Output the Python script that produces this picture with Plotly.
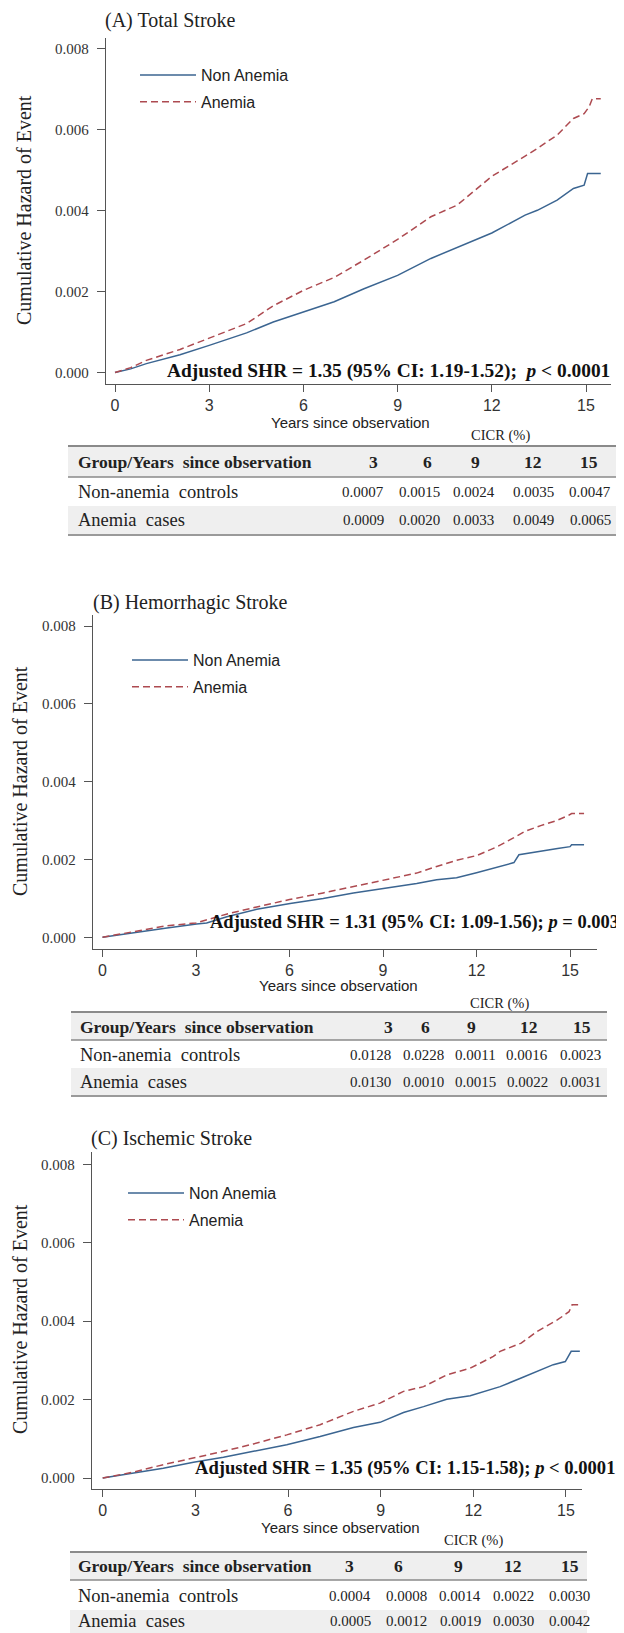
import plotly.graph_objects as go

# The page body has an 8px default margin, so the figure is drawn at (8, 8).
OX, OY = 8, 8
PAGE_W, PAGE_H = 624, 1633
W, H = PAGE_W - OX, PAGE_H - OY

SERIF = "Liberation Serif, Times New Roman, serif"
NARROW = "Liberation Sans Narrow, Arial Narrow, Liberation Sans, Arial, sans-serif"
BLUE = "#3b6591"
RED = "#ad4a50"
AXC = "#555555"

# ---------------- data ----------------
series_names = ["Non Anemia", "Anemia"]
panel_titles = ["(A) Total Stroke", "(B) Hemorrhagic Stroke", "(C) Ischemic Stroke"]
shr_texts = [
    "<b>Adjusted SHR = 1.35 (95% CI: 1.19-1.52);  <i>p</i> &lt; 0.0001</b>",
    "<b>Adjusted SHR = 1.31 (95% CI: 1.09-1.56); <i>p</i> = 0.003</b>",
    "<b>Adjusted SHR = 1.35 (95% CI: 1.15-1.58); <i>p</i> &lt; 0.0001</b>",
]
x_ticks = [0, 3, 6, 9, 12, 15]
y_ticks = [0, 0.002, 0.004, 0.006, 0.008]
y_tick_labels = ["0.000", "0.002", "0.004", "0.006", "0.008"]

# Panel A
a_non_years = [0, 0.5, 1.0, 2.07, 3.0, 4.19, 5.04, 6.0, 6.98, 7.93, 9.0, 10.06, 10.9, 12.0, 13.06, 13.45, 14.08, 14.6, 14.94, 15.05, 15.47]
a_non_vals = [0, 0.00009, 0.00022, 0.00044, 0.00067, 0.00098, 0.00125, 0.00149, 0.00175, 0.00207, 0.0024, 0.00282, 0.0031, 0.00345, 0.00389, 0.00401, 0.00426, 0.00455, 0.00463, 0.00492, 0.00492]
a_ane_years = [0, 0.5, 1.0, 2.07, 3.0, 4.19, 5.04, 6.0, 6.98, 7.93, 9.0, 10.06, 10.9, 12.0, 13.06, 13.45, 14.08, 14.6, 14.94, 15.1, 15.2, 15.47]
a_ane_vals = [0, 0.00012, 0.0003, 0.00057, 0.00085, 0.00121, 0.00165, 0.00203, 0.00235, 0.00278, 0.00329, 0.00385, 0.00414, 0.00485, 0.00535, 0.00554, 0.00587, 0.00628, 0.0064, 0.00657, 0.00677, 0.00677]
# Panel B
b_non_years = [0, 1.0, 2.01, 3.02, 3.34, 3.99, 4.95, 6.02, 7.08, 8.05, 9.0, 10.08, 10.72, 11.36, 12.0, 12.64, 13.2, 13.36, 14.0, 14.6, 15.0, 15.05, 15.45]
b_non_vals = [0, 0.00012, 0.00023, 0.00034, 0.00037, 0.00053, 0.00072, 0.00087, 0.001, 0.00114, 0.00125, 0.00138, 0.00148, 0.00153, 0.00166, 0.00179, 0.00192, 0.00212, 0.00221, 0.00228, 0.00233, 0.00238, 0.00238]
b_ane_years = [0, 1.0, 2.0, 3.0, 3.5, 4.0, 4.95, 6.0, 7.08, 8.05, 9.0, 10.08, 10.72, 11.36, 12.0, 12.64, 13.2, 13.55, 14.06, 14.57, 14.95, 15.05, 15.45]
b_ane_vals = [0, 0.00014, 0.00029, 0.00037, 0.00048, 0.0006, 0.00078, 0.00097, 0.00114, 0.00131, 0.00148, 0.00165, 0.00182, 0.00198, 0.0021, 0.00232, 0.00256, 0.00272, 0.00287, 0.003, 0.00313, 0.00318, 0.00318]
# Panel C
c_non_years = [0, 0.99, 1.96, 2.94, 3.91, 4.88, 5.96, 7.04, 8.12, 8.98, 9.74, 10.39, 11.14, 11.9, 12.65, 12.87, 13.55, 14.07, 14.59, 14.98, 15.17, 15.45]
c_non_vals = [0, 0.00013, 0.00025, 0.0004, 0.00053, 0.00068, 0.00085, 0.00106, 0.00129, 0.00142, 0.00167, 0.00182, 0.00201, 0.0021, 0.00228, 0.00233, 0.00255, 0.00272, 0.00289, 0.00297, 0.00323, 0.00323]
c_ane_years = [0, 0.99, 1.96, 2.94, 3.91, 4.88, 5.96, 7.04, 8.12, 8.98, 9.74, 10.39, 11.14, 11.9, 12.65, 12.87, 13.55, 14.07, 14.72, 15.1, 15.2, 15.45]
c_ane_vals = [0, 0.00015, 0.00034, 0.00051, 0.00068, 0.00087, 0.0011, 0.00136, 0.0017, 0.00191, 0.00221, 0.00233, 0.00263, 0.0028, 0.0031, 0.00323, 0.00344, 0.00374, 0.00403, 0.00424, 0.00442, 0.00442]

# Tables (CICR %)
table_header_label = "Group/Years  since observation"
table_years = ["3", "6", "9", "12", "15"]
table_groups = ["Non-anemia  controls", "Anemia  cases"]
cicr_a = [["0.0007", "0.0015", "0.0024", "0.0035", "0.0047"],
          ["0.0009", "0.0020", "0.0033", "0.0049", "0.0065"]]
cicr_b = [["0.0128", "0.0228", "0.0011", "0.0016", "0.0023"],
          ["0.0130", "0.0010", "0.0015", "0.0022", "0.0031"]]
cicr_c = [["0.0004", "0.0008", "0.0014", "0.0022", "0.0030"],
          ["0.0005", "0.0012", "0.0019", "0.0030", "0.0042"]]

# ---------------- layout geometry (page pixels) ----------------
panels = [
    dict(series=[(a_non_years, a_non_vals), (a_ane_years, a_ane_vals)], cicr=cicr_a,
         ax_left=106, ax_right=611, ax_top=38, ax_bottom=384,
         xr=[-0.2866, 15.796], yr=[-0.000284, 0.00827],
         title=(103, 20), ytitle=(24, 210), xtitle=(350, 423), cicr_lbl=(500, 435),
         shr=(612, 371, 19.4), legend=(135, 58),
         tb=dict(top=446, left=68, right=621, hc=462, hline=477, r1=492, r2top=506, r2=520, bottom=535,
                 lab=76, vals=[363, 419, 474, 533, 590], hdr=[374, 428, 475, 533, 589])),
    dict(series=[(b_non_years, b_non_vals), (b_ane_years, b_ane_vals)], cicr=cicr_b,
         ax_left=93, ax_right=597, ax_top=615, ax_bottom=949,
         xr=[-0.305, 15.865], yr=[-0.0003007, 0.008283],
         title=(91, 602), ytitle=(20, 781), xtitle=(338, 985), cicr_lbl=(499, 1003),
         shr=(621, 922, 18.5), legend=(127, 643),
         tb=dict(top=1012, left=71, right=607, hc=1027, hline=1040, r1=1055, r2top=1068, r2=1082, bottom=1096,
                 lab=78, vals=[370, 423, 475, 527, 580], hdr=[388, 425, 471, 529, 582])),
    dict(series=[(c_non_years, c_non_vals), (c_ane_years, c_ane_vals)], cicr=cicr_c,
         ax_left=92, ax_right=582, ax_top=1152, ax_bottom=1489,
         xr=[-0.3465, 15.52], yr=[-0.00028, 0.008313],
         title=(89, 1138), ytitle=(20, 1319), xtitle=(340, 1527), cicr_lbl=(474, 1540),
         shr=(617, 1468, 18.6), legend=(123, 1176),
         tb=dict(top=1552, left=70, right=587, hc=1566, hline=1580, r1=1596, r2top=1610, r2=1621, bottom=1645,
                 lab=76, vals=[350, 406, 460, 513, 569], hdr=[349, 398, 458, 513, 570])),
]


def px(x):
    return (x - OX) / W


def py(y):
    return 1 - (y - OY) / H


fig = go.Figure()
annotations = []
shapes = []
layout = dict(width=W, height=H, margin=dict(l=0, r=0, t=0, b=0), autosize=False,
              paper_bgcolor="white", plot_bgcolor="white", showlegend=True)

for i, p in enumerate(panels):
    sfx = "" if i == 0 else str(i + 1)
    xa, ya = "x" + sfx, "y" + sfx
    leg = "legend" + sfx
    for (yrs, vals), name, color, dash in zip(p["series"], series_names, [BLUE, RED], ["solid", "7px,4px"]):
        fig.add_trace(go.Scatter(x=yrs, y=vals, mode="lines", name=name, xaxis=xa, yaxis=ya,
                                 line=dict(color=color, width=1.5, dash=dash),
                                 legend=leg, legendgroup=name + sfx, showlegend=True,
                                 hoverinfo="skip"))
    layout["xaxis" + sfx] = dict(domain=[px(p["ax_left"]), px(p["ax_right"])], range=p["xr"],
                                 anchor=ya, showline=True, linecolor=AXC, linewidth=1.3,
                                 ticks="outside", ticklen=7, tickwidth=1.3, tickcolor=AXC,
                                 tickvals=x_ticks, showgrid=False, zeroline=False,
                                 tickfont=dict(family=NARROW, size=16, color="#333"))
    layout["yaxis" + sfx] = dict(domain=[py(p["ax_bottom"]), py(p["ax_top"])], range=p["yr"],
                                 anchor=xa, showline=True, linecolor=AXC, linewidth=1.3,
                                 ticks="outside", ticklen=8, tickwidth=1.3, tickcolor=AXC,
                                 tickvals=y_ticks, ticktext=y_tick_labels, showgrid=False,
                                 zeroline=False, ticklabelstandoff=5,
                                 tickfont=dict(family=SERIF, size=15, color="#333"))
    lx, ly = p["legend"]
    layout[leg] = dict(x=px(lx), y=py(ly), xanchor="left", yanchor="top",
                       bgcolor="rgba(0,0,0,0)", borderwidth=0, itemwidth=56,
                       tracegroupgap=3, traceorder="grouped",
                       font=dict(family=NARROW, size=16, color="#222"))
    # texts
    tx, ty = p["title"]
    annotations.append(dict(text=panel_titles[i], x=px(tx), y=py(ty), xref="paper", yref="paper",
                            xanchor="left", yanchor="middle", showarrow=False,
                            font=dict(family=SERIF, size=20, color="#222")))
    yx, yy = p["ytitle"]
    annotations.append(dict(text="Cumulative Hazard of Event", x=px(yx), y=py(yy), xref="paper",
                            yref="paper", xanchor="center", yanchor="middle", textangle=-90,
                            showarrow=False, font=dict(family=SERIF, size=20, color="#222")))
    xx, xy = p["xtitle"]
    annotations.append(dict(text="Years since observation", x=px(xx), y=py(xy), xref="paper",
                            yref="paper", xanchor="center", yanchor="middle", showarrow=False,
                            font=dict(family=NARROW, size=15, color="#222")))
    cx, cy = p["cicr_lbl"]
    annotations.append(dict(text="CICR (%)", x=px(cx), y=py(cy), xref="paper", yref="paper",
                            xanchor="center", yanchor="middle", showarrow=False,
                            font=dict(family=SERIF, size=14.5, color="#222")))
    sx, sy, ss = p["shr"]
    annotations.append(dict(text=shr_texts[i], x=px(sx), y=py(sy), xref="paper", yref="paper",
                            xanchor="right", yanchor="middle", showarrow=False,
                            font=dict(family=SERIF, size=ss, color="#111")))
    # table
    t = p["tb"]
    gray = "#efefef"
    shapes.append(dict(type="rect", xref="paper", yref="paper", x0=px(t["left"]), x1=px(t["right"]),
                       y0=py(t["hline"]), y1=py(t["top"]), fillcolor=gray, line=dict(width=0), layer="below"))
    shapes.append(dict(type="rect", xref="paper", yref="paper", x0=px(t["left"]), x1=px(t["right"]),
                       y0=py(min(t["bottom"], PAGE_H)), y1=py(t["r2top"]), fillcolor=gray,
                       line=dict(width=0), layer="below"))
    for yline, wline, col in [(t["top"], 2, "#8a8a8a"), (t["hline"], 1.5, "#8a8a8a"), (t["bottom"], 2, "#9a9a9a")]:
        if yline < PAGE_H:
            shapes.append(dict(type="line", xref="paper", yref="paper", x0=px(t["left"]), x1=px(t["right"]),
                               y0=py(yline), y1=py(yline), line=dict(color=col, width=wline)))
    annotations.append(dict(text="<b>" + table_header_label + "</b>", x=px(t["lab"]), y=py(t["hc"]),
                            xref="paper", yref="paper", xanchor="left", yanchor="middle", showarrow=False,
                            font=dict(family=SERIF, size=17.5, color="#222")))
    for yr_lbl, hx in zip(table_years, t["hdr"]):
        annotations.append(dict(text="<b>" + yr_lbl + "</b>", x=px(hx), y=py(t["hc"]), xref="paper",
                                yref="paper", xanchor="center", yanchor="middle", showarrow=False,
                                font=dict(family=SERIF, size=17.5, color="#222")))
    for grp, row, ry in zip(table_groups, p["cicr"], [t["r1"], t["r2"]]):
        annotations.append(dict(text=grp, x=px(t["lab"]), y=py(ry), xref="paper", yref="paper",
                                xanchor="left", yanchor="middle", showarrow=False,
                                font=dict(family=SERIF, size=18.5, color="#222")))
        for v, vx in zip(row, t["vals"]):
            annotations.append(dict(text=v, x=px(vx), y=py(ry), xref="paper", yref="paper",
                                    xanchor="center", yanchor="middle", showarrow=False,
                                    font=dict(family=SERIF, size=15, color="#222")))

layout["annotations"] = annotations
layout["shapes"] = shapes
fig.update_layout(**layout)
fig.write_html("out.html")
